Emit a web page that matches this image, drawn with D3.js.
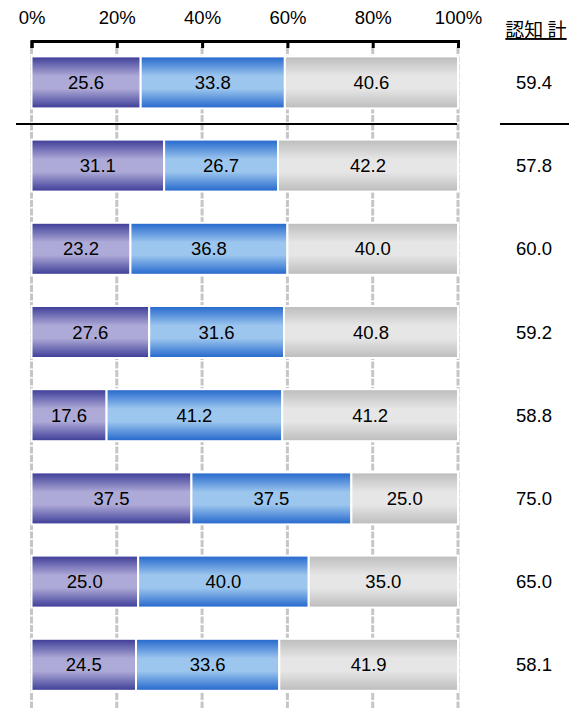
<!DOCTYPE html>
<html>
<head>
<meta charset="utf-8">
<script src="https://cdn.jsdelivr.net/npm/d3@7/dist/d3.min.js"></script>
<style>
  html, body { margin: 0; padding: 0; background: #fff; }
  svg { display: block; }
  text { font-family: "Liberation Sans", Arial, sans-serif; fill: #000; }
</style>
</head>
<body>
<svg id="chart" width="569" height="708"></svg>
<script>
// Share of each response group per row (percent)
const rows = ["r1", "r2", "r3", "r4", "r5", "r6", "r7", "r8"];
const seriesA = [25.6, 31.1, 23.2, 27.6, 17.6, 37.5, 25.0, 24.5];
const seriesB = [33.8, 26.7, 36.8, 31.6, 41.2, 37.5, 40.0, 33.6];
const seriesC = [40.6, 42.2, 40.0, 40.8, 41.2, 25.0, 35.0, 41.9];
// Awareness total column
const totals = [59.4, 57.8, 60.0, 59.2, 58.8, 75.0, 65.0, 58.1];
const totalHeader = "認知 計";
const tickValues = [0, 20, 40, 60, 80, 100];

const seriesList = [
  { key: "a", values: seriesA, edge: "#3b3b97", mid: "#aeaad7" },
  { key: "b", values: seriesB, edge: "#2266cc", mid: "#9cc6ee" },
  { key: "c", values: seriesC, edge: "#bcbcbc", mid: "#e6e6e6" }
];

const fontSize = "18.5px";

const svg = d3.select("#chart");
const x = d3.scaleLinear().domain([0, 100]).range([31.5, 458]);
const y = d3.scaleBand().domain(rows).range([40.8, 706.4])
  .paddingInner(0.375).paddingOuter(0.1875);

// Vertical gradients for the bar segments
const defs = svg.append("defs");
seriesList.forEach(s => {
  const g = defs.append("linearGradient")
    .attr("id", "grad-" + s.key)
    .attr("x1", 0).attr("y1", 0).attr("x2", 0).attr("y2", 1);
  [[0, s.edge], [0.38, s.mid], [0.62, s.mid], [1, s.edge]].forEach(([o, c]) =>
    g.append("stop").attr("offset", o).attr("stop-color", c));
});

// Dashed gridlines
svg.append("g").selectAll("line")
  .data(tickValues)
  .join("line")
  .attr("x1", d => x(d)).attr("x2", d => x(d))
  .attr("y1", 47).attr("y2", 708)
  .attr("stroke", "#c6c6c6")
  .attr("stroke-width", 3)
  .attr("stroke-dasharray", "7,1.5");

// Stacked segments
const stacked = rows.map((r, i) => {
  let acc = 0;
  return seriesList.map(s => {
    const v = s.values[i];
    const seg = { row: r, key: s.key, v: v, x0: acc, x1: acc + v };
    acc += v;
    return seg;
  });
}).flat();

const segs = svg.append("g").selectAll("g")
  .data(stacked)
  .join("g");

segs.append("rect")
  .attr("x", d => x(d.x0))
  .attr("y", d => y(d.row))
  .attr("width", d => x(d.x1) - x(d.x0))
  .attr("height", y.bandwidth())
  .attr("fill", d => "url(#grad-" + d.key + ")")
  .attr("stroke", "#fff")
  .attr("stroke-width", 2);

segs.append("text")
  .attr("x", d => (x(d.x0) + x(d.x1)) / 2)
  .attr("y", d => y(d.row) + y.bandwidth() / 2)
  .attr("dy", "0.36em")
  .attr("text-anchor", "middle")
  .style("font-size", fontSize)
  .text(d => d.v.toFixed(1));

// Top axis
const axis = d3.axisTop(x)
  .tickValues(tickValues)
  .tickFormat(d => d + "%")
  .tickSizeInner(-7)
  .tickSizeOuter(-7)
  .tickPadding(17);

const ax = svg.append("g").attr("transform", "translate(0,41)").call(axis);
ax.select(".domain").attr("stroke", "#000").attr("stroke-width", 3);
ax.selectAll(".tick line").attr("stroke", "#000").attr("stroke-width", 3);
ax.selectAll(".tick text")
  .attr("font-family", null)
  .attr("font-size", null)
  .style("font-size", fontSize)
  .attr("fill", "#000");

// Total column
const colX = 534;
svg.append("text")
  .attr("x", colX + 2).attr("y", 37)
  .attr("text-anchor", "middle")
  .style("font-size", "19px")
  .style("font-family", "'Noto Sans CJK JP', sans-serif")
  .style("text-decoration", "underline")
  .text(totalHeader);

svg.append("g").selectAll("text")
  .data(rows)
  .join("text")
  .attr("x", colX)
  .attr("y", d => y(d) + y.bandwidth() / 2)
  .attr("dy", "0.36em")
  .attr("text-anchor", "middle")
  .style("font-size", fontSize)
  .text((d, i) => totals[i].toFixed(1));

// Separator under the first row
const sepY = (y(rows[0]) + y.bandwidth() + y(rows[1])) / 2;
svg.append("line")
  .attr("x1", 16).attr("x2", x(100) - 1)
  .attr("y1", sepY).attr("y2", sepY)
  .attr("stroke", "#000").attr("stroke-width", 2);
svg.append("line")
  .attr("x1", 500).attr("x2", 569)
  .attr("y1", sepY).attr("y2", sepY)
  .attr("stroke", "#000").attr("stroke-width", 2);
</script>
</body>
</html>
